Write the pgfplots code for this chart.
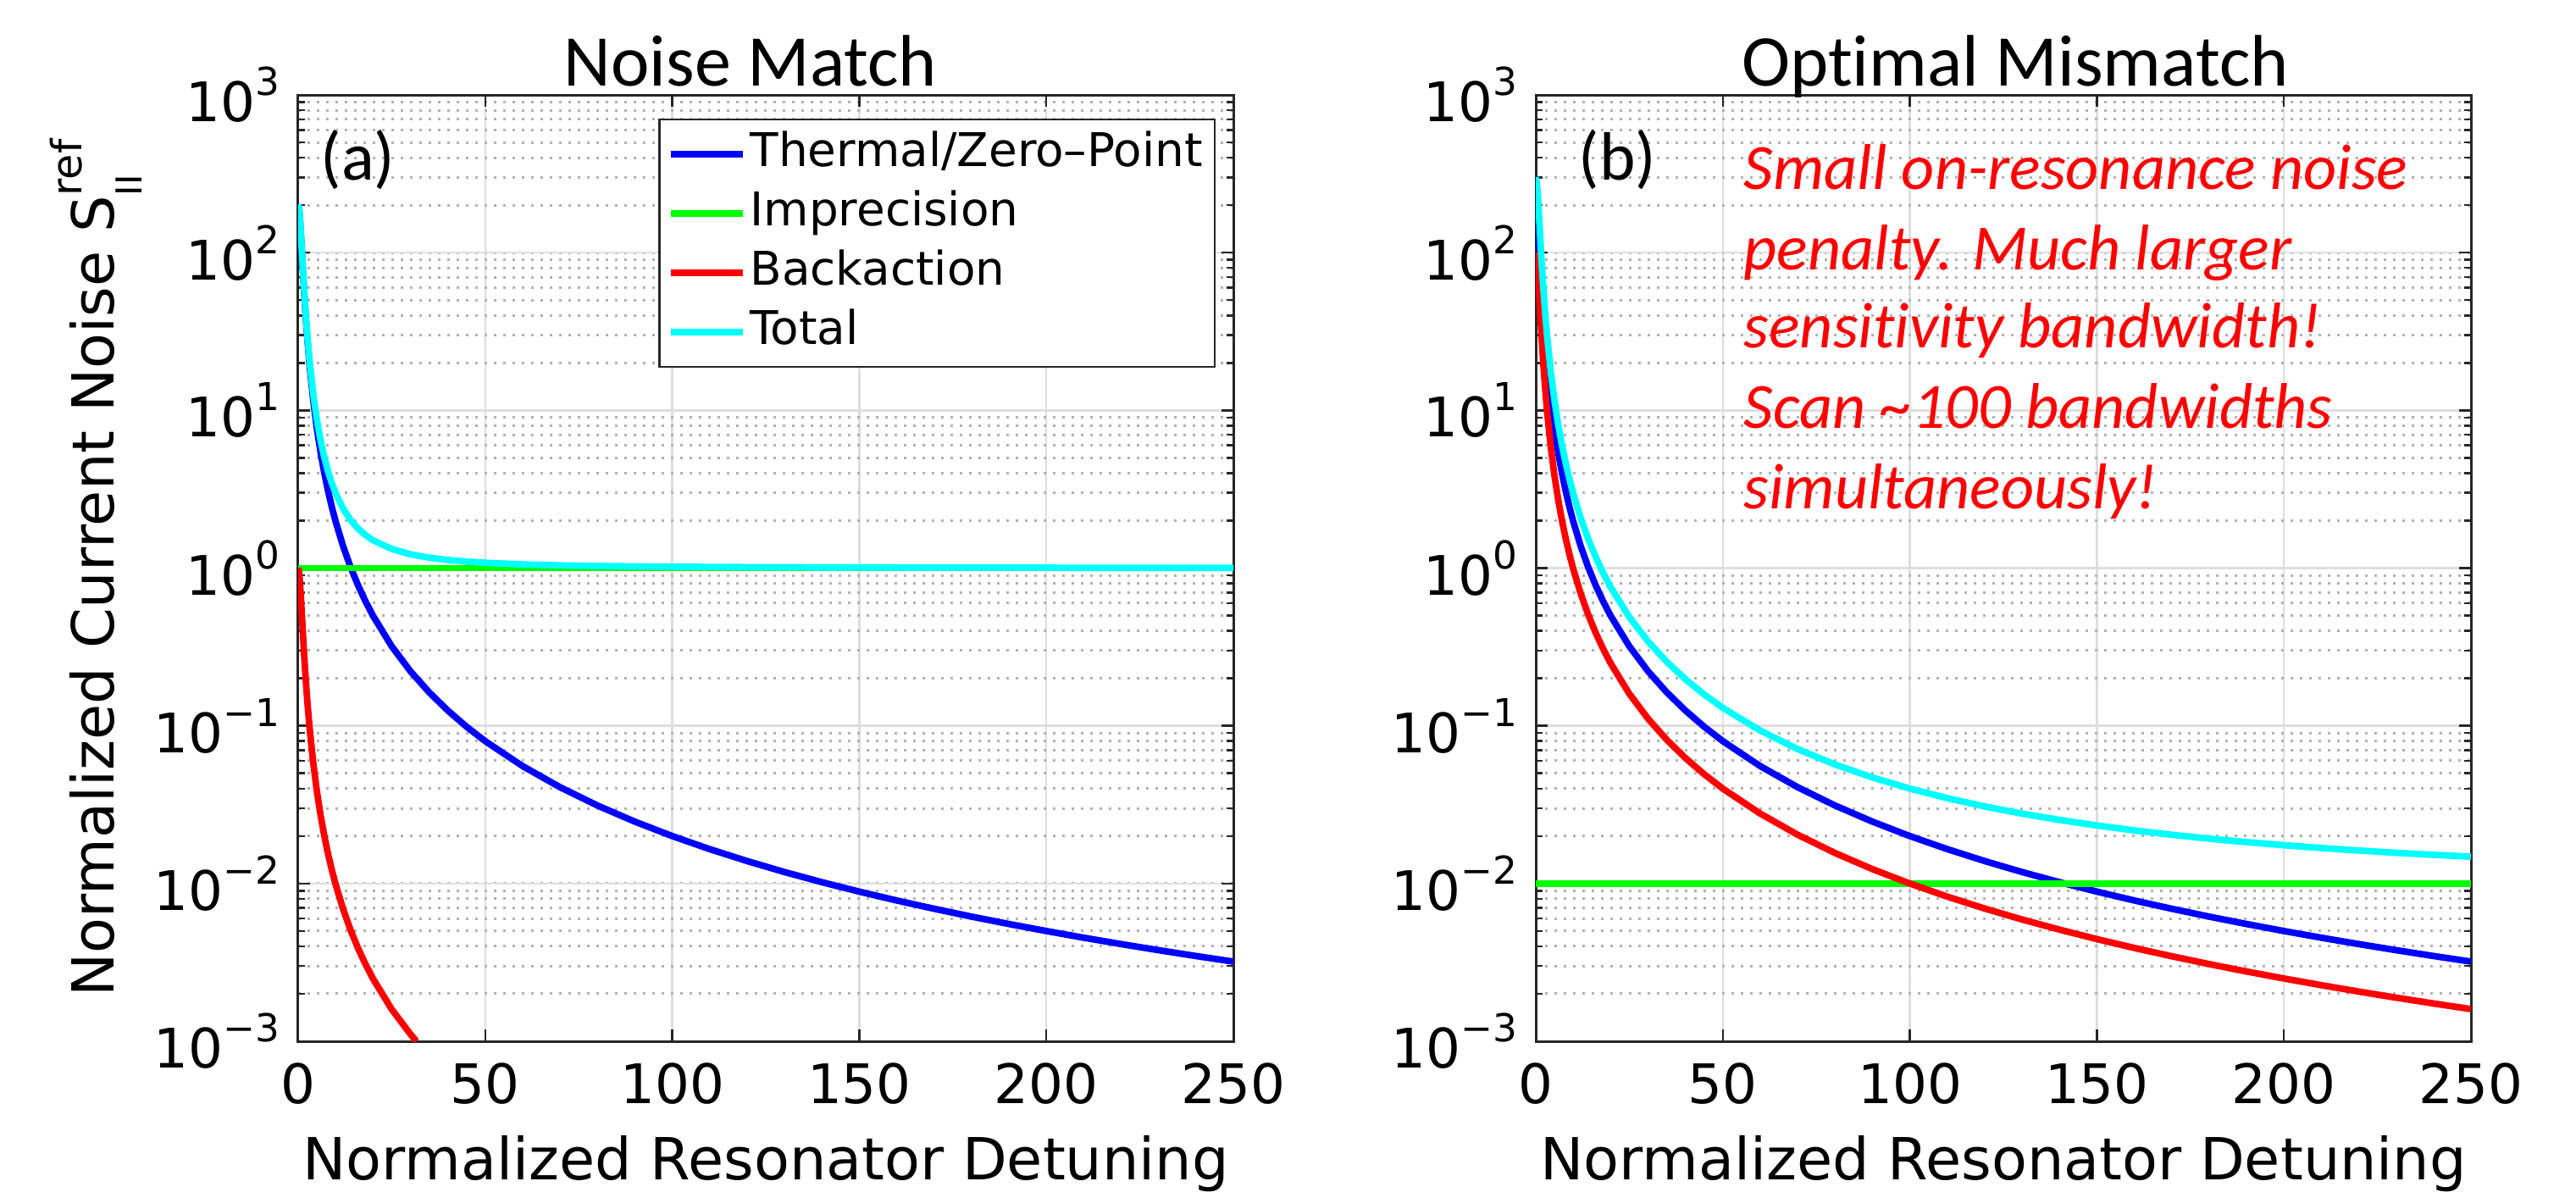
\documentclass[border=0pt]{standalone}
\usepackage{fontspec}
\setmainfont{DejaVu Sans}
\newfontfamily\calfont{Carlito}[Ligatures=NoCommon]
\usepackage{pgfplots}
\usepackage{pgfplotstable}
\pgfplotsset{compat=1.18}

\definecolor{mblue}{RGB}{0,0,255}
\definecolor{mgreen}{RGB}{0,255,0}
\definecolor{mred}{RGB}{255,0,0}
\definecolor{mcyan}{RGB}{0,255,255}
\definecolor{axgray}{RGB}{38,38,38}

% panel (a): thermal and total
\pgfplotstableread{
x th tot
0 200 202
0.25 188.24 190.18
0.5 160 161.8
0.75 128 129.64
1 100 101.5
1.5 61.54 62.85
2 40 41.2
2.5 27.586 28.724
3 20 21.1
4 11.765 12.824
5 7.692 8.731
6 5.405 6.432
7 4.0 5.02
8 3.077 4.092
9 2.439 3.451
10 1.980 2.990
12 1.379 2.386
14 1.015 2.020
16 0.7782 1.782
18 0.6154 1.618
20 0.4988 1.501
25 0.3195 1.321
30 0.2220 1.223
35 0.1632 1.164
40 0.1250 1.126
45 0.09872 1.099
50 0.07997 1.080
60 0.05554 1.0558
70 0.04081 1.0410
80 0.03125 1.0314
90 0.02469 1.0248
100 0.02000 1.0201
110 0.01653 1.0166
120 0.01389 1.0140
130 0.01183 1.0119
140 0.01020 1.0103
150 0.008888 1.0089
160 0.007812 1.0079
170 0.006920 1.0070
180 0.006173 1.0062
190 0.005540 1.0056
200 0.005000 1.0050
210 0.004535 1.0046
220 0.004132 1.0042
230 0.003781 1.0038
240 0.003472 1.0035
250 0.003200 1.0032
}\tabA

% panel (a): backaction
\pgfplotstableread{
x ba
0 1
0.25 0.9412
0.5 0.8
0.75 0.64
1 0.5
1.5 0.3077
2 0.2
2.5 0.1379
3 0.1
4 0.05882
5 0.03846
6 0.02703
7 0.02
8 0.01538
9 0.01220
10 0.009901
12 0.006897
14 0.005076
16 0.003891
18 0.003077
20 0.002494
25 0.001597
30 0.001110
31.6 0.001001
}\tabAba

% panel (b)
\pgfplotstableread{
x th ba tot
0 200 100 300.01
0.25 188.24 94.12 282.36
0.5 160 80 240.01
0.75 128 64 192.01
1 100 50 150.01
1.5 61.54 30.77 92.32
2 40 20 60.01
2.5 27.586 13.793 41.389
3 20 10 30.01
4 11.765 5.882 17.66
5 7.692 3.846 11.55
6 5.405 2.703 8.118
7 4.0 2.0 6.01
8 3.077 1.5385 4.625
9 2.439 1.2195 3.668
10 1.980 0.9901 2.980
12 1.379 0.6897 2.079
14 1.015 0.5076 1.533
16 0.7782 0.3891 1.177
18 0.6154 0.3077 0.9331
20 0.4988 0.2494 0.7582
25 0.3195 0.1597 0.4892
30 0.2220 0.1110 0.3430
35 0.1632 0.0816 0.2548
40 0.1250 0.0625 0.1975
45 0.09872 0.04936 0.1581
50 0.07997 0.03998 0.1300
60 0.05554 0.02777 0.09331
70 0.04081 0.02040 0.07121
80 0.03125 0.01562 0.05687
90 0.02469 0.01234 0.04703
100 0.02000 0.01000 0.04000
110 0.01653 0.008264 0.03479
120 0.01389 0.006944 0.03083
130 0.01183 0.005917 0.02775
140 0.01020 0.005102 0.02531
150 0.008888 0.004444 0.02333
160 0.007812 0.003906 0.02172
170 0.006920 0.003460 0.02038
180 0.006173 0.003086 0.01926
190 0.005540 0.002770 0.01831
200 0.005000 0.002500 0.01750
210 0.004535 0.002268 0.01680
220 0.004132 0.002066 0.01620
230 0.003781 0.001890 0.01567
240 0.003472 0.001736 0.01521
250 0.003200 0.001600 0.01480
}\tabB

\newcommand\ex[1]{10\raisebox{0.31cm}{\fontsize{12.9}{13}\selectfont #1}}

\begin{document}
\begin{tikzpicture}
\useasboundingbox (0,0) rectangle (30.41,14.13);

\begin{axis}[
  at={(3.52cm,1.84cm)}, anchor=south west,
  scale only axis, width=11.04cm, height=11.17cm,
  xmin=0, xmax=250, ymin=1e-3, ymax=1e3, ymode=log,
  xtick={0,50,100,150,200,250},
  xticklabels={0,50,100,150,200,250},
  ytick={1e-3,1e-2,1e-1,1,1e1,1e2,1e3},
  yticklabels={\ex{−3},\ex{−2},\ex{−1},\ex{0},\ex{1},\ex{2},\ex{3}},
  tick label style={font=\fontsize{18.3}{20}\selectfont},
  xticklabel style={yshift=-0.13cm},
  yticklabel style={xshift=-0.09cm},
  tick align=inside,
  major tick length=0.14cm, minor tick length=0.08cm,
  tick style={axgray, line width=0.025cm},
  axis line style={axgray, line width=0.03cm},
  xmajorgrids, ymajorgrids, yminorgrids,
  major grid style={black!13, line width=0.025cm},
  minor grid style={black!30, line width=0.03cm, dash pattern=on 0.03cm off 0.08cm},
  xlabel={Normalized Resonator Detuning},
  xlabel style={at={(axis description cs:0.5,0)}, anchor=base, yshift=-1.63cm,
    font=\fontsize{19.5}{22}\selectfont},
  ylabel={Normalized Current Noise S\rlap{\raisebox{-0.33cm}{\fontsize{12}{12}\selectfont II}}\raisebox{0.38cm}{\fontsize{14}{14}\selectfont ref}},
  ylabel style={at={(axis description cs:-0.1966,0.5)}, anchor=base,
    font=\fontsize{19.5}{22}\selectfont},
  legend cell align=left,
  legend image code/.code={\draw[#1] (0cm,0cm) -- (0.85cm,0cm);},
  legend style={at={(axis description cs:0.385,0.975)}, anchor=north west,
    draw=axgray, line width=0.025cm, fill=white,
    font=\fontsize{15.6}{18}\selectfont,
    inner xsep=0.095cm, inner ysep=0.085cm, row sep=0.05cm,
    nodes={inner sep=0.05cm, text height=0.42cm, text depth=0.13cm}},
]
\addplot[mblue, line width=2.2pt] table[x=x, y=th] {\tabA};
\addlegendentry{Thermal/Zero–Point}
\addplot[mgreen, line width=2.2pt] coordinates {(0,1) (250,1)};
\addlegendentry{Imprecision}
\addplot[mred, line width=2.2pt] table[x=x, y=ba] {\tabAba};
\addlegendentry{Backaction}
\addplot[mcyan, line width=2.2pt] table[x=x, y=tot] {\tabA};
\addlegendentry{Total}
\end{axis}

\begin{axis}[
  at={(18.13cm,1.84cm)}, anchor=south west,
  scale only axis, width=11.04cm, height=11.17cm,
  xmin=0, xmax=250, ymin=1e-3, ymax=1e3, ymode=log,
  xtick={0,50,100,150,200,250},
  xticklabels={0,50,100,150,200,250},
  ytick={1e-3,1e-2,1e-1,1,1e1,1e2,1e3},
  yticklabels={\ex{−3},\ex{−2},\ex{−1},\ex{0},\ex{1},\ex{2},\ex{3}},
  tick label style={font=\fontsize{18.3}{20}\selectfont},
  xticklabel style={yshift=-0.13cm},
  yticklabel style={xshift=-0.09cm},
  tick align=inside,
  major tick length=0.14cm, minor tick length=0.08cm,
  tick style={axgray, line width=0.025cm},
  axis line style={axgray, line width=0.03cm},
  xmajorgrids, ymajorgrids, yminorgrids,
  major grid style={black!13, line width=0.025cm},
  minor grid style={black!30, line width=0.03cm, dash pattern=on 0.03cm off 0.08cm},
  xlabel={Normalized Resonator Detuning},
  xlabel style={at={(axis description cs:0.5,0)}, anchor=base, yshift=-1.63cm,
    font=\fontsize{19.5}{22}\selectfont},
]
\addplot[mblue, line width=2.2pt] table[x=x, y=th] {\tabB};
\addplot[mgreen, line width=2.2pt] coordinates {(0,0.01) (250,0.01)};
\addplot[mred, line width=2.2pt] table[x=x, y=ba] {\tabB};
\addplot[mcyan, line width=2.2pt] table[x=x, y=tot] {\tabB};
\end{axis}

% titles and panel labels
\node[anchor=base, font=\calfont\fontsize{24.5}{28}\selectfont] at (8.86,13.11) {Noise Match};
\node[anchor=base, font=\calfont\fontsize{24.5}{28}\selectfont] at (23.79,13.11) {Optimal Mismatch};
\node[anchor=base west, inner sep=0pt, font=\calfont\fontsize{23}{26}\selectfont] at (3.78,12.00) {(a)};
\node[anchor=base west, inner sep=0pt, font=\calfont\fontsize{23}{26}\selectfont] at (18.63,12.00) {(b)};

% annotation in panel (b)
\node[anchor=base west, inner sep=0pt, text=mred, font=\calfont\itshape\fontsize{21.7}{26}\selectfont] at (20.58,11.90) {Small on-resonance noise};
\node[anchor=base west, inner sep=0pt, text=mred, font=\calfont\itshape\fontsize{21.7}{26}\selectfont] at (20.58,10.95) {penalty. Much larger};
\node[anchor=base west, inner sep=0pt, text=mred, font=\calfont\itshape\fontsize{21.7}{26}\selectfont] at (20.58,10.03) {sensitivity bandwidth!};
\node[anchor=base west, inner sep=0pt, text=mred, font=\calfont\itshape\fontsize{21.7}{26}\selectfont] at (20.58,9.08) {Scan \textasciitilde100 bandwidths};
\node[anchor=base west, inner sep=0pt, text=mred, font=\calfont\itshape\fontsize{21.7}{26}\selectfont] at (20.58,8.13) {simultaneously!};
\end{tikzpicture}
\end{document}
